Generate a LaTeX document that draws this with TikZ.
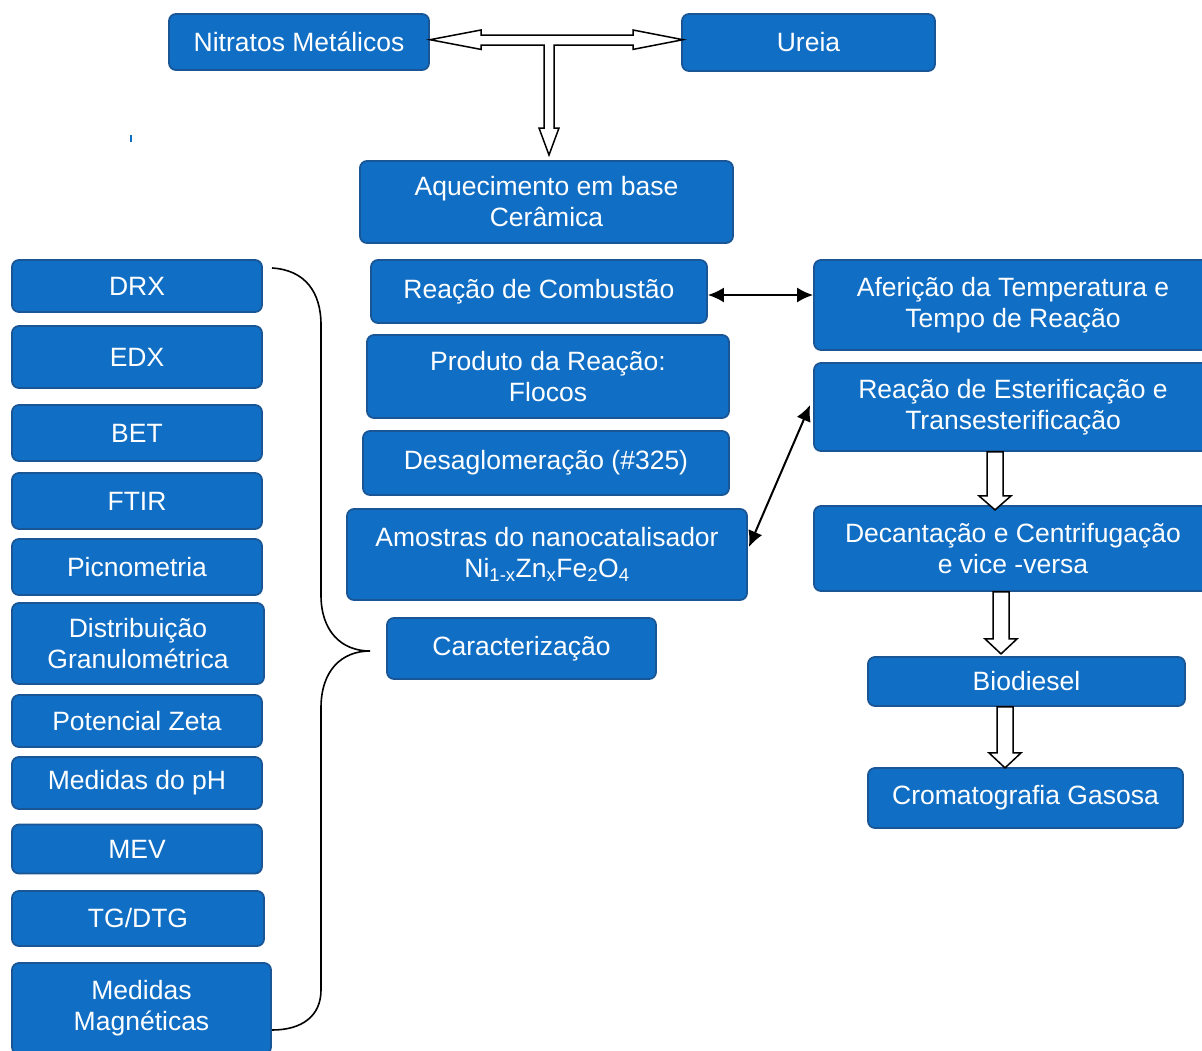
\documentclass[tikz,border=0pt]{standalone}
\usepackage{fontspec}
\setmainfont{Liberation Sans}
\usetikzlibrary{arrows.meta,calc}
\definecolor{boxfill}{RGB}{16,110,197}
\definecolor{boxline}{RGB}{26,86,150}
\begin{document}
\begin{tikzpicture}[x=1pt,y=-1pt,
  bx/.style={draw=boxline, fill=boxfill, line width=1.8pt, rounded corners=7pt,
    text=white, align=center, inner sep=0pt,
    font=\fontsize{26.5}{31}\selectfont},
  hollow/.style={draw=black, fill=white, line width=1.5pt, line join=miter},
  dblk/.style={{Latex[length=16pt,width=15pt]}-{Latex[length=16pt,width=15pt]}, line width=2pt, black},
  brace/.style={draw=black, line width=1.6pt}
]
\useasboundingbox (0,0) rectangle (1202,1050);

% top row
\node[bx, minimum width=260pt, minimum height=56pt] (nit) at (299,42) {Nitratos Metálicos};
\node[bx, minimum width=253pt, minimum height=57pt] (ure) at (808.5,42.5) {Ureia};

% middle column
\node[bx, minimum width=373pt, minimum height=82pt] (aq) at (546.5,202) {Aquecimento em base\\Cerâmica};
\node[bx, minimum width=336pt, minimum height=63pt] (rc) at (539,291.5) {Reação de Combustão};
\node[bx, minimum width=362pt, minimum height=83pt] (pr) at (548,376.5) {Produto da Reação:\\Flocos};
\node[bx, minimum width=366pt, minimum height=64pt] (des) at (546,463) {Desaglomeração (\#325)};
\node[bx, minimum width=400pt, minimum height=91pt] (am) at (547,554.5) {Amostras do nanocatalisador\\Ni\textsubscript{1-x}Zn\textsubscript{x}Fe\textsubscript{2}O\textsubscript{4}};
\node[bx, minimum width=269pt, minimum height=61pt] (car) at (521.5,648.5) {Caracterização};

% right column
\node[bx, minimum width=398pt, minimum height=90pt] (af) at (1013,305) {Aferição da Temperatura e\\Tempo de Reação};
\node[bx, minimum width=398pt, minimum height=88pt] (est) at (1013,407) {Reação de Esterificação e\\Transesterificação};
\node[bx, minimum width=398pt, minimum height=85pt] (dec) at (1013,548.5) {Decantação e Centrifugação\\e vice -versa};
\node[bx, minimum width=317pt, minimum height=49pt] (bio) at (1026.5,681.5) {Biodiesel};
\node[bx, minimum width=315pt, minimum height=60pt] (cro) at (1025.5,798) {Cromatografia Gasosa};

% left column
\node[bx, minimum width=250pt, minimum height=52pt] (drx) at (137,286) {DRX};
\node[bx, minimum width=250pt, minimum height=62pt] (edx) at (137,357) {EDX};
\node[bx, minimum width=250pt, minimum height=56pt] (bet) at (137,433) {BET};
\node[bx, minimum width=250pt, minimum height=56pt] (ftir) at (137,501) {FTIR};
\node[bx, minimum width=250pt, minimum height=56pt] (pic) at (137,567) {Picnometria};
\node[bx, minimum width=252pt, minimum height=81pt] (dis) at (138,643.5) {Distribuição\\Granulométrica};
\node[bx, minimum width=250pt, minimum height=52pt] (pz) at (137,721) {Potencial Zeta};
\node[bx, minimum width=250pt, minimum height=52pt] (mph) at (137,783) {Medidas do pH};
\node[bx, minimum width=250pt, minimum height=49pt] (mev) at (137,849) {MEV};
\node[bx, minimum width=252pt, minimum height=55pt] (tg) at (138,918.5) {TG/DTG};
\node[bx, minimum width=259pt, minimum height=91pt] (mm) at (141.5,1008.5) {Medidas\\Magnéticas};

% small mark
\fill[boxfill] (130.2,135) rectangle (132,141.5);

% hollow arrows (top T-arrow)
\path[hollow] (430,39.7) -- (481,30) -- (481,35) -- (633,35) -- (633,30) -- (683,39.7)
  -- (633,49.4) -- (633,45) -- (554,45) -- (554,128) -- (559,128) -- (549,155)
  -- (539,128) -- (544,128) -- (544,45) -- (481,45) -- (481,49.4) -- cycle;

% hollow arrows right column
\path[hollow] ($(est.south)+(-26,0)$) -- ++(16,0) -- ++(0,44) -- ++(8,0) -- ++(-16,14)
  -- ++(-16,-14) -- ++(8,0) -- cycle;
\path[hollow] ($(dec.south)+(-20,0)$) -- ++(16,0) -- ++(0,47) -- ++(8,0) -- ++(-16,15)
  -- ++(-16,-15) -- ++(8,0) -- cycle;
\path[hollow] ($(bio.south)+(-29.5,0)$) -- ++(16,0) -- ++(0,46) -- ++(8,0) -- ++(-16,15)
  -- ++(-16,-15) -- ++(8,0) -- cycle;

% black double arrows
\draw[dblk] ([yshift=-3.5pt]rc.east) -- ([yshift=10pt]af.west);
\draw[dblk] ([xshift=1pt,yshift=7.5pt]am.east) -- ([xshift=-3pt,yshift=2pt]est.west);

% brace
\coordinate (bt) at (272,268);
\coordinate (bm) at (370,651);
\coordinate (bb) at (272,1030);
\draw[brace] (bt) .. controls (305,270) and (321,292) .. (321,325) -- (321,595)
  .. controls (321,632) and (342,651) .. (bm)
  .. controls (342,651) and (321,670) .. (321,708) -- (321,990)
  .. controls (321,1016) and (302,1030) .. (bb);
\end{tikzpicture}
\end{document}
